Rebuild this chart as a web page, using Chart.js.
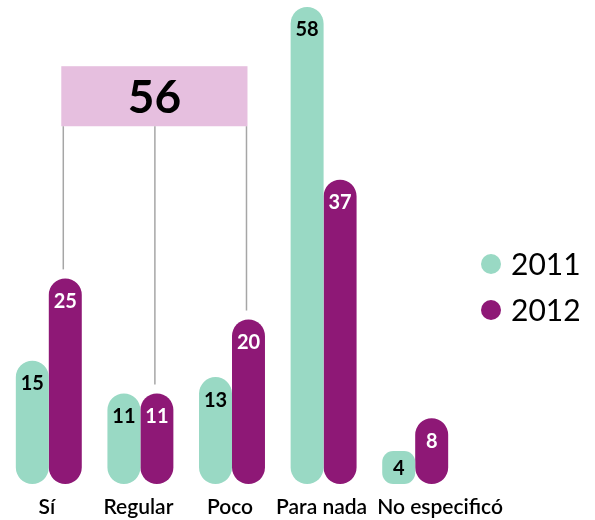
<!DOCTYPE html>
<html>
<head>
<meta charset="utf-8">
<script src="https://cdn.jsdelivr.net/npm/chart.js@4"></script>
<style>
  body { margin: 0; background: #fff; }
  #wrap { width: 595px; height: 520px; }
</style>
</head>
<body>
<div id="wrap"><canvas id="myChart"></canvas></div>
<script>
// data
const categories = ["Sí", "Regular", "Poco", "Para nada", "No especificó"];
const years = ["2011", "2012"];
const values2011 = [15, 11, 13, 58, 4];
const values2012 = [25, 11, 20, 37, 8];
// categories joined by the pink box (2012 values summed)
const bracketCategories = ["Sí", "Regular", "Poco"];

const colors = ["#99d9c4", "#8e1876"];
const labelColors = ["#000000", "#ffffff"];
const FONT = "Lato, 'Open Sans', sans-serif";

//labels inside the top of each bar
const barLabels = {
  id: "barLabels",
  afterDatasetsDraw(chart) {
    const ctx = chart.ctx;
    ctx.save();
    ctx.font = "bold 20px " + FONT;
    ctx.textAlign = "center";
    ctx.textBaseline = "middle";
    chart.data.datasets.forEach((ds, i) => {
      chart.getDatasetMeta(i).data.forEach((bar, j) => {
        const h = bar.base - bar.y;
        ctx.fillStyle = labelColors[i];
        ctx.fillText(ds.data[j], bar.x, bar.y + Math.min(22, h / 2) + 1);
      });
    });
    ctx.restore();
  },
};

//category names under the bars, pushed right when they would overlap
const categoryLabels = {
  id: "categoryLabels",
  afterDraw(chart) {
    const ctx = chart.ctx;
    const x = chart.scales.x;
    ctx.save();
    ctx.font = "600 21px " + FONT;
    ctx.fillStyle = "#000";
    ctx.textAlign = "center";
    ctx.textBaseline = "middle";
    let prevRight = -Infinity;
    categories.forEach((c, i) => {
      const w = ctx.measureText(c).width;
      const cx = Math.max(x.getPixelForTick(i) - 2, prevRight + 10 + w / 2);
      ctx.fillText(c, cx, chart.chartArea.bottom + 23);
      prevRight = cx + w / 2;
    });
    ctx.restore();
  },
};

//pink box with the total and the lines down to the 2012 bars
const bracket = {
  id: "bracket",
  afterDraw(chart) {
    const ctx = chart.ctx;
    const y = chart.scales.y;
    const meta = chart.getDatasetMeta(1);
    const idx = bracketCategories.map((c) => categories.indexOf(c));
    const total = idx.reduce((s, i) => s + values2012[i], 0);
    const xs = idx.map((i) => meta.data[i].x - 2);
    const left = Math.min(...xs) - 2;
    const right = Math.max(...xs) + 1;
    const top = y.getPixelForValue(50.8);
    const bottom = y.getPixelForValue(43.5);
    ctx.save();
    ctx.fillStyle = "#e6bfdf";
    ctx.fillRect(left, top, right - left, bottom - top);
    ctx.strokeStyle = "#a6a6a6";
    ctx.lineWidth = 1.5;
    idx.forEach((i, k) => {
      ctx.beginPath();
      ctx.moveTo(xs[k], bottom);
      ctx.lineTo(xs[k], meta.data[i].y - 9);
      ctx.stroke();
    });
    ctx.fillStyle = "#000";
    ctx.font = "bold 46px " + FONT;
    ctx.textAlign = "center";
    ctx.textBaseline = "middle";
    ctx.fillText(total, (left + right) / 2, (top + bottom) / 2 + 2);
    ctx.restore();
  },
};

//legend with round markers on the right
const sideLegend = {
  id: "sideLegend",
  afterDraw(chart) {
    const ctx = chart.ctx;
    const area = chart.chartArea;
    ctx.save();
    ctx.font = "30px " + FONT;
    ctx.textBaseline = "middle";
    years.forEach((yr, i) => {
      const cy = 264 + i * 46;
      ctx.fillStyle = colors[i];
      ctx.beginPath();
      ctx.arc(area.right + 30, cy, 10, 0, Math.PI * 2);
      ctx.fill();
      ctx.fillStyle = "#000";
      ctx.fillText(yr, area.right + 50, cy + 1);
    });
    ctx.restore();
  },
};

const ctx = document.getElementById("myChart").getContext("2d");
new Chart(ctx, {
  type: "bar",
  data: {
    labels: categories,
    datasets: [values2011, values2012].map((vals, i) => ({
      label: years[i],
      data: vals,
      backgroundColor: colors[i],
      //short bars get softer corners, like the "4" bar
      borderRadius: (c) => (c.raw < 5 ? 11 : 17),
      borderSkipped: false,
      barPercentage: 1,
      categoryPercentage: 0.72,
    })),
  },
  options: {
    responsive: true,
    maintainAspectRatio: false,
    animation: false,
    layout: { padding: { left: 3, right: 134, top: 7, bottom: 36 } },
    plugins: {
      legend: { display: false },
      tooltip: { enabled: false },
    },
    scales: {
      x: {
        display: false,
      },
      y: {
        display: false,
        min: 0,
        max: Math.max(...values2011, ...values2012),
      },
    },
  },
  plugins: [barLabels, bracket, categoryLabels, sideLegend],
});
</script>
</body>
</html>
